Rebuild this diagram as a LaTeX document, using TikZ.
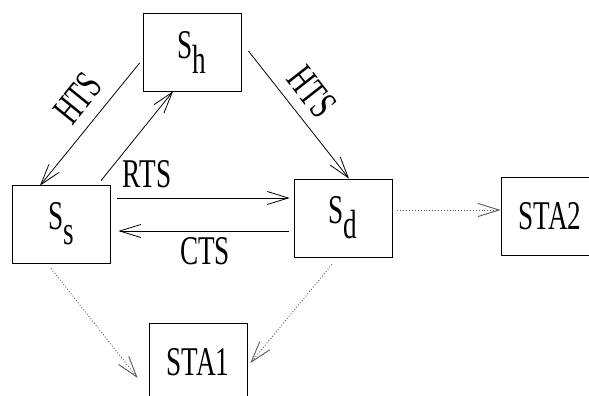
\documentclass[tikz,border=0pt]{standalone}
\usepackage{fontspec}
\setmainfont{Liberation Serif}
\usetikzlibrary{arrows.meta,calc}
\newcommand{\narrowtxt}[1]{\scalebox{0.8}[1.2]{#1}}
\newcommand{\subdown}[2]{#1\raisebox{-12.5pt}{#2}}
\begin{document}
\begin{tikzpicture}[x=1pt,y=-1pt,
  box/.style={draw,line width=0.8pt,minimum width=98pt,minimum height=78pt,inner sep=0pt,font=\fontsize{34}{40}\selectfont},
  lbl/.style={inner sep=0pt,font=\fontsize{34}{40}\selectfont},
  msg/.style={line width=0.8pt,-{Straight Barb[length=21pt,width=13pt]}},
  dotmsg/.style={line width=0.9pt,black!65,dotted,-{Straight Barb[length=21pt,width=13pt]}}]
\useasboundingbox (0,0) rectangle (589,396);
\clip (0,0) rectangle (589,396);
\node[box] (Sh) at (192,52) {\narrowtxt{\subdown{S}{h}}};
\node[box] (Ss) at (61,224) {\narrowtxt{\subdown{S}{s}}};
\node[box] (Sd) at (343,218) {\narrowtxt{\subdown{S}{d}}};
\node[box] (STA2) at (550,216) {\narrowtxt{STA2}};
\node[box] (STA1) at (198,362) {\narrowtxt{STA1}};
% connectors
\draw[msg] ($(Sh.west)+(-3,11)$) -- ($(Ss.north)+(-21,1)$);
\draw[msg] ($(Ss.north)+(40,-4)$) -- ($(Sh.south)+(-19,0)$);
\draw[msg] ($(Sh.east)+(7,-1)$) -- ($(Sd.north)+(6,0)$);
\draw[msg] ($(Ss.east)+(7,-26)$) -- ($(Sd.west)+(-4,-20)$);
\draw[msg] ($(Sd.west)+(-5,13)$) -- ($(Ss.east)+(8,7)$);
\draw[dotmsg] ($(Sd.east)+(5,-8)$) -- ($(STA2.west)+(0,-6)$);
\draw[dotmsg] ($(Ss.south)+(-10,5)$) -- ($(STA1.west)+(-11,16)$);
\draw[dotmsg] ($(Sd.south)+(-11,7)$) -- ($(STA1.east)+(3,1)$);
% labels
\node[lbl,rotate=51] (l1) at (78,98) {\narrowtxt{HTS}};
\node[lbl,rotate=-52] (l2) at (312,92) {\narrowtxt{HTS}};
\node[lbl] (l3) at (147,174) {\narrowtxt{RTS}};
\node[lbl] (l4) at (205,251) {\narrowtxt{CTS}};
\end{tikzpicture}
\end{document}
